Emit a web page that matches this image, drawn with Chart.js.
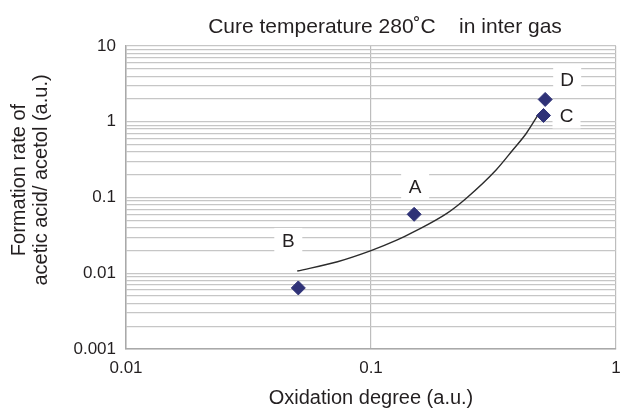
<!DOCTYPE html>
<html>
<head>
<meta charset="utf-8">
<script src="https://cdn.jsdelivr.net/npm/chart.js@4.4.1/dist/chart.umd.min.js"></script>
<style>
    html, body { margin: 0; padding: 0; background: #fff; }
    #wrap { width: 624px; height: 417px; }
</style>
</head>
<body>
<div id="wrap"><canvas id="myChart" width="624" height="417"></canvas></div>
<script>
// measured points (B, A, C, D)
const pointNames = ["B", "A", "C", "D"];
const oxidation = [0.0505, 0.150, 0.506, 0.514];
const formationRate = [0.0064, 0.060, 1.21, 1.97];

// trend curve
const curveX = [0.05, 0.073, 0.1, 0.128, 0.15, 0.204, 0.245, 0.324, 0.379, 0.43, 0.485];
const curveY = [0.0107, 0.0142, 0.0199, 0.0275, 0.0354, 0.0618, 0.098, 0.231, 0.424, 0.70, 1.29];

// axis ticks
const xTicks = [0.01, 0.1, 1];
const yTicks = [0.001, 0.01, 0.1, 1, 10];

const FONT = "'Liberation Sans', Arial, Helvetica, sans-serif";
const TEXT = "#231f20";

// minor gridlines 2..9 inside every decade
function yGridValues() {
    const out = [];
    for (let i = 0; i < yTicks.length; i++) {
        out.push(yTicks[i]);
        if (i < yTicks.length - 1) {
            for (let m = 2; m <= 9; m++) out.push(+(yTicks[i] * m).toPrecision(3));
        }
    }
    return out;
}

const textPlugin = {
    id: "textPlugin",
    afterDatasetsDraw(chart, args, opts) {
        const ctx = chart.ctx;
        ctx.save();
        ctx.fillStyle = TEXT;
        ctx.textAlign = "center";
        ctx.textBaseline = "middle";
        // title
        ctx.font = "21px " + FONT;
        ctx.fillText("Cure temperature 280\u02DAC    in inter gas", opts.titleX, opts.titleY);

        // y axis title, two rotated lines
        ctx.font = "20px " + FONT;
        ctx.save();
        ctx.translate(opts.yTitleX, opts.yTitleY);
        ctx.rotate(-Math.PI / 2);
        ctx.fillText("Formation rate of", 0, -11);
        ctx.fillText("acetic acid/ acetol (a.u.)", 0, 11);
        ctx.restore();

        // point letters with white boxes
        ctx.font = "19px " + FONT;
        const meta = chart.getDatasetMeta(0);
        meta.data.forEach(function (pt, i) {
            const off = opts.offsets[pointNames[i]];
            const cx = pt.x + off[0];
            const cy = pt.y + off[1];
            ctx.fillStyle = "#fff";
            ctx.fillRect(cx - 14, cy - 13, 28, 26);
            ctx.fillStyle = TEXT;
            ctx.fillText(pointNames[i], cx, cy + 1);
        });
        ctx.restore();
    }
};

const chartConfig = new Chart(document.getElementById("myChart"), {
    type: "scatter",
    data: {
        datasets: [
            {
                label: "measured",
                data: oxidation.map((x, i) => ({ x: x, y: formationRate[i] })),
                pointStyle: "rectRot",
                pointRadius: 7,
                pointBackgroundColor: "#2f3277",
                pointBorderColor: "#2f3277",
                showLine: false,
                order: 0,
            },
            {
                label: "trend",
                data: curveX.map((x, i) => ({ x: x, y: curveY[i] })),
                showLine: true,
                pointRadius: 0,
                borderColor: "#2b2b2b",
                borderWidth: 1.4,
                cubicInterpolationMode: "monotone",
                order: 1,
            },
        ],
    },
    options: {
        responsive: false,
        animation: false,
        devicePixelRatio: 1,
        layout: { padding: { left: 0, right: 3, top: 46, bottom: 0 } },
        plugins: {
            legend: { display: false },
            tooltip: { enabled: false },
            textPlugin: {
                titleX: 385,
                titleY: 27,
                yTitleX: 30,
                yTitleY: 180,
                offsets: { B: [-10, -47], A: [1, -28], C: [23, 0], D: [22, -20] },
            },
        },
        scales: {
            x: {
                type: "logarithmic",
                min: 0.01,
                max: 1,
                afterBuildTicks: function (scale) {
                    scale.ticks = xTicks.map(v => ({ value: v }));
                },
                afterFit: function (scale) {
                    scale.height = 68;
                    scale.paddingLeft = 0;
                    scale.paddingRight = 0;
                },
                ticks: {
                    autoSkip: false,
                    maxRotation: 0,
                    padding: 9,
                    color: TEXT,
                    font: { family: FONT, size: 17 },
                    callback: function (value) { return String(value); },
                },
                grid: { color: "#bdbdbd", lineWidth: 1.2, drawTicks: false },
                border: { color: "#a9a9a9", width: 1.5 },
                title: {
                    display: true,
                    text: "Oxidation degree (a.u.)",
                    color: TEXT,
                    font: { family: FONT, size: 20 },
                    padding: { top: 0, bottom: 7 },
                },
            },
            y: {
                type: "logarithmic",
                min: 0.001,
                max: 10,
                afterBuildTicks: function (scale) {
                    scale.ticks = yGridValues().map(v => ({ value: v }));
                },
                afterFit: function (scale) {
                    scale.width = 126;
                    scale.paddingTop = 0;
                    scale.paddingBottom = 0;
                },
                ticks: {
                    autoSkip: false,
                    padding: 10,
                    color: TEXT,
                    font: { family: FONT, size: 17 },
                    callback: function (value) {
                        return yTicks.includes(value) ? String(value) : "";
                    },
                },
                grid: { color: "#c6c6c6", lineWidth: 1.2, drawTicks: false },
                border: { color: "#a9a9a9", width: 1.5 },
            },
        },
    },
    plugins: [textPlugin],
});
</script>
</body>
</html>
